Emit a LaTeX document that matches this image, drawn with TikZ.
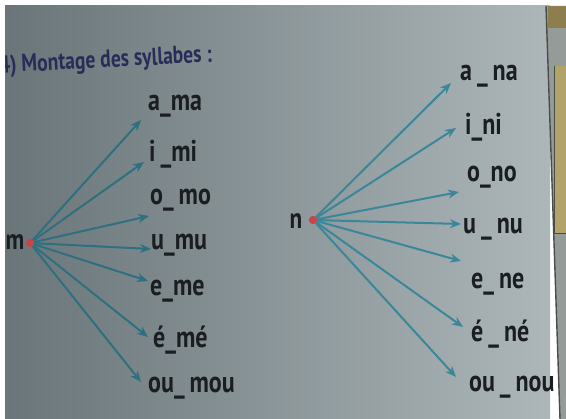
\documentclass[tikz,border=0pt]{standalone}
\usepackage{fontspec}
\setmainfont{PT Sans}
\newfontfamily\labfont[FakeStretch=0.8]{PT Sans}
\usetikzlibrary{arrows.meta}

\definecolor{photoL}{HTML}{6A7579}
\definecolor{photoM}{HTML}{A0ABB0}
\definecolor{photoR}{HTML}{ADB7BA}
\definecolor{teal}{HTML}{2E6F80}
\definecolor{tealL}{HTML}{3A879A}
\definecolor{ink}{HTML}{1A1E21}
\definecolor{navy}{HTML}{282D58}
\definecolor{hubred}{HTML}{C74545}
\definecolor{pageedge}{HTML}{4A4D47}
\definecolor{nextpage}{HTML}{959B98}
\definecolor{ochre}{HTML}{B1A36A}
\definecolor{ochreD}{HTML}{8C7E4E}

\tikzset{
  syl/.style={font=\labfont\bfseries\fontsize{30}{30}\selectfont, text=ink, inner sep=0pt, anchor=west},
  hub/.style={circle, fill=hubred, inner sep=0pt, minimum size=8pt},
  letter/.style={font=\labfont\bfseries\fontsize{29}{29}\selectfont, text=ink, inner sep=0pt},
  fan/.style={draw=#1, line width=2pt, -{Stealth[length=11pt,width=9pt]}},
}

\begin{document}
\begin{tikzpicture}[x=1pt,y=-1pt]
\useasboundingbox (0,0) rectangle (566,419);
\fill[white] (0,0) rectangle (566,419);

\begin{scope}
\clip (5,6) rectangle (566,419);
% page background
\shade[left color=photoL, middle color=photoM, right color=photoR] (5,6) rectangle (550,419);
% facing page at the right edge
\fill[nextpage] (546,6) -- (566,6) -- (566,419) -- (560,419) -- cycle;
\fill[ochreD] (548,6) rectangle (566,28);
\fill[ochre] (554,66) rectangle (566,234);
\draw[pageedge, line width=1pt] (554,66) -- (554,234) -- (566,234);
\draw[pageedge, line width=1.4pt] (546,6) -- (560,419);

% heading
\node[font=\labfont\bfseries\fontsize{24.5}{24.5}\selectfont, text=navy, inner sep=0pt, anchor=west, rotate=3]
  (title) at (-1,67) {4) Montage des syllabes :};

% ---- consonant m ----
\node[letter] (m) at (15,242) {m};
\node[hub] (hm) at (30,243) {};
\node[syl] (ma) at (148,106) {a\_ma};
\node[syl] (mi) at (149,154) {i\,\_mi};
\node[syl] (mo) at (150,200) {o\_\,mo};
\node[syl] (mu) at (151,245) {u\_mu};
\node[syl] (me) at (150,291) {e\_me};
\node[syl] (mee) at (153,340) {é\_mé};
\node[syl] (mou) at (148,388) {ou\_\,mou};
\coordinate (tma) at (141,120);
\coordinate (tmi) at (144,162);
\coordinate (tmo) at (149,216);
\coordinate (tmu) at (151,249);
\coordinate (tme) at (148,281);
\coordinate (tmee) at (148,337);
\coordinate (tmou) at (141,382);
\foreach \t in {tma,tmi,tmo,tmu,tme,tmee,tmou}
  \draw[fan=teal] (hm) -- (\t);
\node[hub] at (hm) {};

% ---- consonant n ----
\node[letter] (n) at (296,221) {n};
\node[hub] (hn) at (313,220) {};
\node[syl] (na) at (460,76) {a\,\_\,na};
\node[syl] (ni) at (465,127) {i\_ni};
\node[syl] (no) at (467,177) {o\_no};
\node[syl] (nu) at (463,229) {u\,\_\,nu};
\node[syl] (ne) at (471,284) {e\_\,ne};
\node[syl] (nee) at (471,334) {é\,\_\,né};
\node[syl] (nou) at (469,387) {ou\,\_\,nou};
\coordinate (tna) at (451,83);
\coordinate (tni) at (456,128);
\coordinate (tno) at (459,192);
\coordinate (tnu) at (461,224);
\coordinate (tne) at (461,261);
\coordinate (tnee) at (463,327);
\coordinate (tnou) at (456,377);
\foreach \t in {tna,tni,tno,tnu,tne,tnee,tnou}
  \draw[fan=tealL] (hn) -- (\t);
\node[hub] at (hn) {};
\end{scope}
\end{tikzpicture}
\end{document}
